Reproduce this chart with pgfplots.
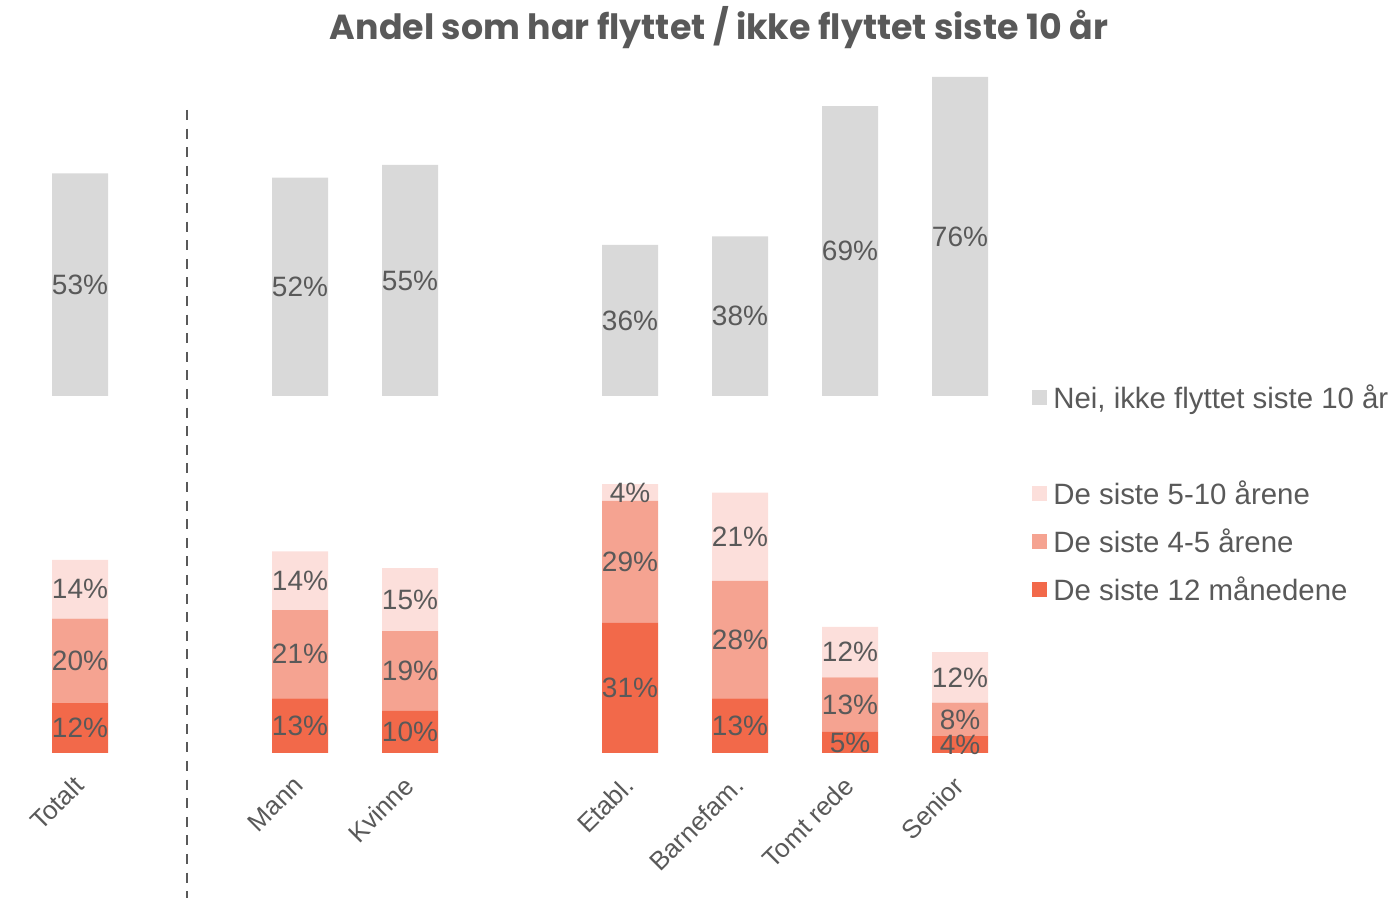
\documentclass[border=0pt]{standalone}
\usepackage{fontspec}
\setmainfont{Liberation Sans}
\newfontfamily\titlefont{Poppins}
\usepackage{pgfplots}
\pgfplotsset{compat=1.18}
\definecolor{txt}{HTML}{595959}
\definecolor{cgray}{HTML}{D9D9D9}
\definecolor{cpink}{HTML}{FCDFDB}
\definecolor{csalmon}{HTML}{F5A391}
\definecolor{cred}{HTML}{F2694A}
\pgfplotsset{
  lbl/.style={
    visualization depends on=rawy\as\rawy,
    nodes near coords={\pgfmathprintnumber[assume math mode=true]{\rawy}\%},
    every node near coord/.append style={font=\fontsize{14}{16}\selectfont, text=txt, anchor=center, inner sep=0pt},
  }
}
\begin{document}
\begin{tikzpicture}
\begin{axis}[
  name=ax,
  width=696pt, height=449pt, scale only axis,
  xmin=-0.72727, xmax=11.92727, ymin=-34.524, ymax=179.286,
  enlargelimits=false, clip=false,
  ybar stacked, bar width=28pt,
  axis x line=middle, axis y line=none,
  x axis line style={draw=none},
  xtick={0,2,3,5,6,7,8},
  xticklabels={Totalt,Mann,Kvinne,Etabl.,Barnefam.,Tomt rede,Senior},
  xtick style={draw=none},
  major tick length=0pt,
  ytick=\empty,
  xticklabel style={font=\fontsize{13}{15}\selectfont, text=txt, inner sep=0pt, xshift=-4pt, yshift=-10.5pt, rotate=45, anchor=north east},
  legend image code/.code={\fill[#1] (0pt,-3.75pt) rectangle (7.5pt,3.75pt);},
  reverse legend,
  legend cell align=left,
  legend style={at={(axis cs:8.654,89.05)}, anchor=north west, draw=none, fill=none, inner sep=0pt,
    font=\fontsize{14.7}{17}\selectfont, text=txt, row sep=6pt, column sep=1pt,
    nodes={inner sep=2pt, text height=12.5pt, text depth=1.5pt}},
]
\addplot[fill=cred, draw=none, lbl] coordinates {(0,12) (2,13) (3,10) (5,31) (6,13) (7,5) (8,4)};
\addlegendentry{De siste 12 månedene}
\addplot[fill=csalmon, draw=none, lbl] coordinates {(0,20) (2,21) (3,19) (5,29) (6,28) (7,13) (8,8)};
\addlegendentry{De siste 4-5 årene}
\addplot[fill=cpink, draw=none, lbl] coordinates {(0,14) (2,14) (3,15) (5,4) (6,21) (7,12) (8,12)};
\addlegendentry{De siste 5-10 årene}
\addplot[fill=none, draw=none, legend image code/.code={\path (0pt,-3.75pt) rectangle (7.5pt,3.75pt);}] coordinates {(0,39) (2,37) (3,41) (5,21) (6,23) (7,55) (8,61)};
\addlegendentry{\mbox{}}
\addplot[fill=cgray, draw=none, lbl] coordinates {(0,53) (2,52) (3,55) (5,36) (6,38) (7,69) (8,76)};
\addlegendentry{Nei, ikke flyttet siste 10 år}
\draw[txt, line width=1.35pt, dash pattern=on 5pt off 4.3pt] (axis cs:0.973,153.1) -- (axis cs:0.973,-34.524);
\node[text=txt, inner sep=0pt] at (axis cs:5.809,172.6) {\resizebox{389pt}{!}{\titlefont\bfseries Andel som har flyttet / ikke flyttet siste 10 år}};
\end{axis}
\pgfresetboundingbox
\path (ax.south west) rectangle (ax.north east);
\end{tikzpicture}
\end{document}
